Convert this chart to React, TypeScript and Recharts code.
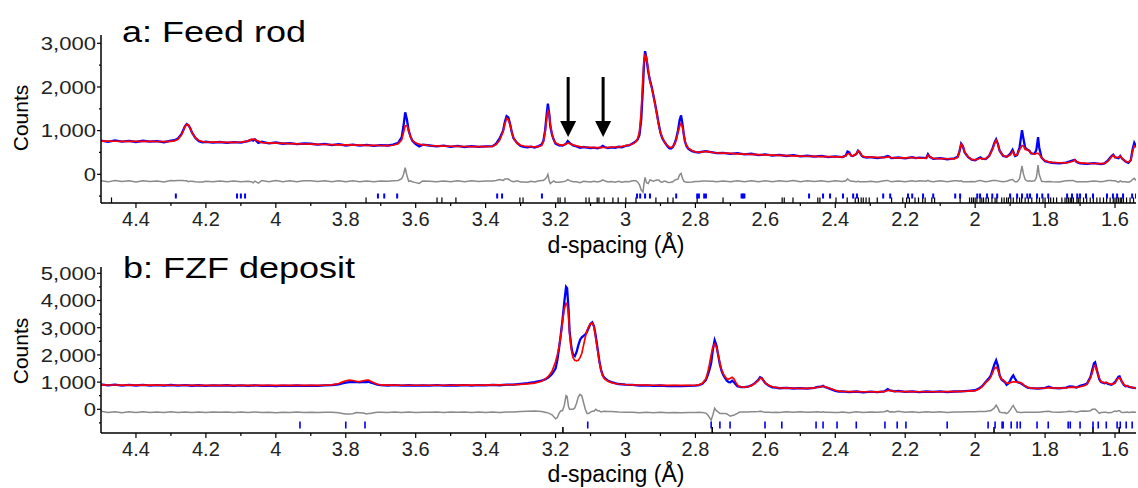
import React from 'react';
import { ComposedChart, Line, Scatter, XAxis, YAxis } from 'recharts';

const FONT = '"Liberation Sans", Arial, Helvetica, sans-serif';

// ---------- Panel a: Feed rod ----------
const dA = [
  4.50, 4.48, 4.46, 4.44, 4.42, 4.40, 4.38, 4.36, 4.34, 4.32,
  4.30, 4.29, 4.28, 4.27, 4.265, 4.26, 4.255, 4.25, 4.245, 4.24,
  4.23, 4.22, 4.21, 4.20, 4.18, 4.16, 4.14, 4.12, 4.10, 4.08,
  4.07, 4.065, 4.06, 4.05, 4.04, 4.02, 4.00, 3.98, 3.96, 3.94,
  3.92, 3.90, 3.88, 3.86, 3.84, 3.82, 3.80, 3.78, 3.76, 3.74,
  3.72, 3.70, 3.68, 3.665, 3.65, 3.64, 3.635, 3.63, 3.625, 3.62,
  3.615, 3.61, 3.60, 3.59, 3.58, 3.56, 3.54, 3.52, 3.50, 3.48,
  3.46, 3.44, 3.42, 3.40, 3.38, 3.37, 3.36, 3.35, 3.345, 3.34,
  3.335, 3.33, 3.325, 3.32, 3.31, 3.30, 3.29, 3.28, 3.27, 3.26,
  3.25, 3.24, 3.235, 3.23, 3.225, 3.222, 3.218, 3.215, 3.21, 3.205,
  3.20, 3.19, 3.18, 3.17, 3.165, 3.16, 3.15, 3.14, 3.13, 3.12,
  3.10, 3.09, 3.08, 3.07, 3.065, 3.06, 3.05, 3.04, 3.03, 3.02,
  3.01, 3.00, 2.99, 2.98, 2.975, 2.97, 2.965, 2.96, 2.955, 2.95,
  2.947, 2.944, 2.94, 2.935, 2.93, 2.925, 2.92, 2.915, 2.91, 2.905,
  2.90, 2.895, 2.89, 2.885, 2.88, 2.875, 2.87, 2.865, 2.86, 2.855,
  2.85, 2.845, 2.841, 2.837, 2.833, 2.83, 2.825, 2.82, 2.81, 2.80,
  2.79, 2.78, 2.77, 2.76, 2.75, 2.74, 2.72, 2.70, 2.68, 2.66,
  2.64, 2.62, 2.60, 2.58, 2.56, 2.54, 2.52, 2.50, 2.48, 2.46,
  2.44, 2.42, 2.40, 2.38, 2.37, 2.365, 2.36, 2.355, 2.35, 2.34,
  2.335, 2.33, 2.325, 2.32, 2.31, 2.30, 2.28, 2.26, 2.25, 2.245,
  2.24, 2.22, 2.20, 2.18, 2.17, 2.16, 2.14, 2.135, 2.13, 2.12,
  2.10, 2.08, 2.06, 2.05, 2.045, 2.04, 2.035, 2.03, 2.02, 2.01,
  2.00, 1.99, 1.985, 1.98, 1.97, 1.96, 1.95, 1.945, 1.94, 1.935,
  1.93, 1.92, 1.91, 1.90, 1.893, 1.886, 1.88, 1.873, 1.866, 1.862,
  1.857, 1.85, 1.845, 1.84, 1.83, 1.825, 1.82, 1.817, 1.81, 1.80,
  1.79, 1.78, 1.76, 1.74, 1.72, 1.715, 1.71, 1.70, 1.68, 1.66,
  1.64, 1.63, 1.62, 1.61, 1.605, 1.60, 1.59, 1.585, 1.58, 1.57,
  1.562, 1.555, 1.55, 1.545, 1.54,
];
const obsA = [
  770, 745, 775, 750, 765, 740, 768, 748, 760, 735,
  770, 780, 820, 920, 1010, 1100, 1150, 1120, 1060, 960,
  830, 760, 735, 745, 725, 740, 720, 738, 725, 760,
  790, 770, 800, 720, 745, 710, 728, 700, 715, 690,
  705, 700, 680, 695, 670, 690, 660, 680, 655, 672,
  650, 668, 660, 680, 720, 850, 1100, 1420, 1250, 1000,
  870, 770, 690, 640, 680, 660, 640, 655, 630, 650,
  625, 645, 630, 640, 645, 700, 820, 1000, 1200, 1330,
  1300, 1150, 960, 820, 720, 650, 630, 620, 635, 615,
  640, 680, 760, 1000, 1400, 1620, 1380, 1100, 900, 790,
  700, 660, 655, 700, 760, 720, 660, 640, 605, 625,
  600, 610, 595, 620, 650, 625, 600, 615, 605, 630,
  620, 650, 660, 705, 730, 760, 800, 900, 1250, 2000,
  2550, 2820, 2650, 2350, 2150, 2000, 1800, 1600, 1380, 1150,
  950, 830, 760, 700, 640, 600, 590, 620, 700, 820,
  1000, 1250, 1350, 1150, 900, 750, 640, 580, 530, 510,
  500, 520, 530, 515, 500, 485, 490, 470, 485, 455,
  470, 440, 455, 430, 445, 420, 438, 410, 425, 405,
  420, 395, 410, 395, 430, 520, 500, 430, 420, 460,
  540, 500, 430, 400, 385, 395, 370, 395, 420, 400,
  370, 385, 365, 395, 370, 380, 370, 460, 400, 355,
  370, 345, 365, 400, 520, 700, 640, 500, 390, 335,
  320, 370, 390, 360, 350, 420, 600, 720, 800, 700,
  540, 420, 400, 470, 560, 420, 440, 620, 1010, 820,
  610, 560, 540, 480, 470, 560, 850, 620, 380, 300,
  280, 265, 250, 270, 320, 330, 280, 250, 240, 255,
  235, 250, 320, 420, 450, 390, 370, 420, 360, 290,
  260, 320, 560, 720, 640,
];
const calcA = [
  760, 758, 757, 756, 755, 754, 753, 752, 751, 750,
  752, 765, 800, 900, 990, 1090, 1140, 1130, 1060, 960,
  840, 775, 750, 742, 738, 735, 733, 731, 735, 760,
  800, 805, 795, 760, 725, 718, 712, 708, 703, 698,
  694, 690, 686, 683, 679, 676, 672, 669, 666, 664,
  662, 660, 658, 665, 700, 790, 950, 1110, 1120, 1000,
  860, 780, 720, 690, 672, 660, 652, 647, 643, 640,
  637, 635, 633, 632, 640, 680, 780, 980, 1150, 1280,
  1250, 1130, 960, 830, 710, 665, 648, 640, 634, 630,
  632, 660, 740, 950, 1300, 1460, 1380, 1150, 920, 780,
  720, 680, 668, 690, 720, 705, 670, 650, 635, 625,
  617, 612, 610, 612, 615, 614, 615, 620, 625, 630,
  640, 655, 672, 695, 720, 750, 820, 980, 1450, 2250,
  2600, 2730, 2680, 2400, 2120, 1980, 1800, 1580, 1350, 1120,
  960, 850, 760, 700, 660, 625, 610, 630, 680, 780,
  950, 1100, 1170, 1080, 900, 760, 660, 600, 545, 515,
  505, 515, 525, 512, 500, 493, 485, 478, 470, 464,
  457, 450, 444, 438, 432, 427, 422, 418, 414, 410,
  406, 403, 400, 400, 420, 470, 480, 430, 420, 470,
  540, 510, 440, 410, 395, 392, 388, 384, 400, 395,
  382, 378, 375, 385, 375, 370, 368, 440, 400, 365,
  360, 356, 355, 390, 520, 690, 650, 510, 400, 340,
  330, 355, 370, 355, 360, 420, 580, 700, 780, 690,
  540, 430, 400, 440, 520, 430, 450, 560, 660, 650,
  570, 560, 530, 480, 460, 480, 480, 460, 380, 310,
  285, 275, 265, 260, 300, 330, 290, 260, 252, 248,
  246, 250, 300, 400, 440, 380, 390, 410, 370, 300,
  280, 320, 520, 650, 620,
];
const hklA1 = [
  4.286, 4.111, 4.1, 4.088, 3.708, 3.69, 3.653, 3.367, 3.353, 3.239,
  2.967, 2.958, 2.944, 2.93, 2.855, 2.795, 2.79, 2.775, 2.77, 2.668, 2.664, 2.66,
  2.475, 2.435, 2.415, 2.378, 2.349, 2.338, 2.263, 2.243, 2.192, 2.18,
  2.149, 2.12, 2.057, 2.043, 1.994, 1.986, 1.966, 1.951, 1.937, 1.9,
  1.88, 1.866, 1.851, 1.843, 1.823, 1.808, 1.791, 1.737, 1.723, 1.708,
  1.7, 1.683, 1.663, 1.623, 1.606, 1.594, 1.577, 1.551, 1.54,
];
const hklA2 = [
  4.47, 3.742, 3.539, 3.525, 3.485, 3.302, 3.293, 3.193, 3.187, 3.173,
  3.113, 3.104, 3.081, 3.076, 3.061, 3.036, 3.021, 2.999, 2.97, 2.913,
  2.879, 2.864, 2.795, 2.721, 2.552, 2.546, 2.521, 2.45, 2.444, 2.398,
  2.366, 2.343, 2.334, 2.326, 2.32, 2.312, 2.303, 2.28, 2.239, 2.207,
  2.196, 2.188, 2.172, 2.162, 2.15, 2.143, 2.124, 2.116, 2.043, 2.016,
  2.01, 2.005, 2.0, 1.995, 1.986, 1.981, 1.976, 1.969, 1.962, 1.952,
  1.943, 1.938, 1.924, 1.917, 1.91, 1.905, 1.898, 1.891, 1.881, 1.873,
  1.867, 1.857, 1.848, 1.838, 1.824, 1.816, 1.806, 1.8, 1.79, 1.784,
  1.776, 1.767, 1.752, 1.743, 1.738, 1.733, 1.728, 1.724, 1.719, 1.709,
  1.705, 1.7, 1.69, 1.681, 1.671, 1.662, 1.652, 1.643, 1.633, 1.624,
  1.614, 1.605, 1.6, 1.595, 1.59, 1.585, 1.581, 1.576, 1.567, 1.557, 1.547,
];
const arrowsA = [3.164, 3.064];

// ---------- Panel b: FZF deposit ----------
const dB = [
  4.50, 4.48, 4.46, 4.44, 4.42, 4.40, 4.38, 4.36, 4.34, 4.32,
  4.30, 4.28, 4.26, 4.24, 4.22, 4.20, 4.18, 4.16, 4.14, 4.12,
  4.10, 4.08, 4.06, 4.04, 4.02, 4.00, 3.98, 3.96, 3.94, 3.92,
  3.90, 3.88, 3.86, 3.84, 3.82, 3.81, 3.80, 3.79, 3.78, 3.77,
  3.76, 3.75, 3.74, 3.735, 3.73, 3.72, 3.71, 3.70, 3.68, 3.66,
  3.64, 3.62, 3.60, 3.58, 3.56, 3.54, 3.52, 3.50, 3.48, 3.46,
  3.44, 3.42, 3.40, 3.38, 3.36, 3.34, 3.32, 3.30, 3.28, 3.26,
  3.24, 3.23, 3.22, 3.21, 3.20, 3.195, 3.19, 3.185, 3.18, 3.175,
  3.17, 3.167, 3.163, 3.16, 3.155, 3.15, 3.145, 3.14, 3.135, 3.13,
  3.125, 3.12, 3.115, 3.11, 3.105, 3.10, 3.095, 3.09, 3.085, 3.08,
  3.075, 3.07, 3.065, 3.06, 3.05, 3.04, 3.03, 3.02, 3.00, 2.98,
  2.96, 2.94, 2.92, 2.90, 2.88, 2.86, 2.84, 2.82, 2.80, 2.79,
  2.78, 2.77, 2.765, 2.76, 2.755, 2.75, 2.745, 2.74, 2.735, 2.73,
  2.725, 2.72, 2.715, 2.71, 2.705, 2.70, 2.695, 2.69, 2.685, 2.68,
  2.675, 2.67, 2.66, 2.65, 2.64, 2.63, 2.62, 2.615, 2.61, 2.605,
  2.60, 2.59, 2.58, 2.57, 2.56, 2.54, 2.52, 2.50, 2.48, 2.46,
  2.45, 2.44, 2.435, 2.43, 2.42, 2.40, 2.39, 2.38, 2.36, 2.34,
  2.32, 2.30, 2.28, 2.26, 2.25, 2.245, 2.24, 2.23, 2.22, 2.20,
  2.18, 2.16, 2.14, 2.12, 2.10, 2.08, 2.06, 2.04, 2.02, 2.00,
  1.99, 1.98, 1.97, 1.96, 1.955, 1.95, 1.945, 1.94, 1.935, 1.93,
  1.925, 1.92, 1.915, 1.91, 1.905, 1.90, 1.895, 1.891, 1.887, 1.88,
  1.875, 1.87, 1.865, 1.86, 1.85, 1.84, 1.82, 1.80, 1.79, 1.78,
  1.76, 1.74, 1.73, 1.72, 1.71, 1.70, 1.69, 1.68, 1.67, 1.665,
  1.66, 1.657, 1.652, 1.645, 1.64, 1.63, 1.625, 1.62, 1.61, 1.60,
  1.595, 1.59, 1.587, 1.582, 1.575, 1.57, 1.565, 1.56, 1.55, 1.54,
];
const obsB = [
  920, 880, 905, 870, 900, 875, 895, 868, 890, 872,
  893, 870, 888, 866, 885, 862, 880, 870, 885, 860,
  878, 862, 880, 858, 870, 855, 872, 860, 875, 858,
  870, 862, 880, 890, 920, 950, 980, 1000, 1000, 1010,
  990, 1010, 1000, 1020, 990, 950, 910, 890, 875, 890,
  870, 885, 868, 880, 872, 888, 868, 885, 875, 892,
  870, 890, 878, 900, 885, 905, 910, 935, 960, 1000,
  1050, 1100, 1180, 1300, 1500, 1800, 2250, 2750, 3300, 3950,
  4500, 4450, 3700, 2900, 2300, 2000, 1950, 2100, 2350, 2550,
  2650, 2700, 2750, 2850, 3000, 3150, 3200, 3050, 2700, 2250,
  1800, 1450, 1250, 1150, 1050, 1000, 960, 930, 905, 895,
  870, 880, 860, 875, 855, 865, 850, 860, 870, 890,
  940, 1080, 1250, 1450, 1700, 2200, 2540, 2350, 2000, 1650,
  1400, 1250, 1150, 1050, 1000, 990, 1050, 1000, 920, 850,
  830, 820, 815, 830, 880, 960, 1080, 1180, 1150, 1050,
  960, 870, 810, 800, 775, 790, 765, 780, 760, 790,
  820, 830, 860, 820, 780, 680, 650, 660, 630, 655,
  625, 650, 635, 660, 740, 700, 690, 660, 680, 640,
  660, 630, 655, 640, 660, 635, 655, 660, 680, 700,
  760, 850, 1000, 1150, 1250, 1450, 1650, 1800, 1600, 1250,
  1100, 1050, 1000, 900, 950, 1050, 1180, 1250, 1150, 1000,
  980, 960, 920, 870, 800, 775, 760, 790, 830, 790,
  770, 800, 840, 830, 800, 860, 900, 950, 1200, 1450,
  1700, 1730, 1450, 1100, 1000, 960, 980, 930, 900, 1000,
  1100, 1200, 1210, 1050, 900, 850, 860, 820, 800, 780,
];
const calcB = [
  895, 894, 893, 892, 891, 890, 889, 888, 887, 886,
  885, 884, 884, 883, 882, 882, 881, 881, 880, 880,
  880, 879, 879, 879, 878, 878, 878, 878, 878, 879,
  880, 882, 886, 900, 950, 1000, 1050, 1075, 1060, 1030,
  1020, 1050, 1075, 1070, 1040, 980, 920, 895, 888, 886,
  885, 884, 884, 884, 884, 884, 885, 885, 886, 887,
  888, 890, 892, 895, 898, 902, 908, 918, 935, 965,
  1030, 1110, 1220, 1400, 1750, 2000, 2300, 2700, 3250, 3700,
  3900, 3880, 3500, 2800, 2200, 1900, 1800, 1780, 1800, 1900,
  2050, 2350, 2650, 2900, 3050, 3150, 3170, 3020, 2600, 2200,
  1750, 1450, 1230, 1120, 1030, 980, 950, 930, 912, 900,
  893, 888, 885, 882, 880, 879, 879, 880, 885, 900,
  960, 1120, 1350, 1650, 2000, 2300, 2400, 2300, 2000, 1700,
  1450, 1300, 1200, 1120, 1110, 1140, 1180, 1120, 1000, 900,
  840, 820, 815, 830, 870, 950, 1060, 1150, 1130, 1050,
  970, 880, 830, 805, 790, 780, 775, 770, 770, 785,
  810, 840, 850, 830, 790, 700, 670, 660, 652, 648,
  646, 645, 644, 648, 690, 700, 680, 660, 655, 650,
  648, 646, 645, 645, 646, 648, 652, 658, 668, 690,
  740, 830, 980, 1100, 1200, 1350, 1500, 1550, 1450, 1250,
  1120, 1080, 1020, 960, 960, 980, 1000, 1010, 1010, 1000,
  990, 980, 940, 880, 810, 780, 770, 775, 800, 790,
  780, 790, 810, 815, 810, 830, 860, 920, 1150, 1350,
  1600, 1620, 1400, 1150, 1020, 970, 990, 960, 920, 960,
  1080, 1150, 1160, 1060, 920, 860, 860, 840, 800, 790,
];
const hklB1 = [
  3.931, 3.8, 3.745, 3.108, 2.755, 2.73, 2.701, 2.601, 2.553, 2.455,
  2.435, 2.395, 2.34, 2.258, 2.223, 2.198, 2.08, 1.963, 1.943, 1.923,
  1.92, 1.897, 1.88, 1.871, 1.823, 1.791, 1.734, 1.728, 1.7, 1.663,
  1.648, 1.625, 1.594, 1.585, 1.568, 1.551,
];
const hklB2 = [3.179, 2.752, 1.946, 1.663, 1.588];

// ---------- axes ----------
const X_DOMAIN: [number, number] = [1.54, 4.5];
const X_TICKS = [
  4.4, 4.3, 4.2, 4.1, 4.0, 3.9, 3.8, 3.7, 3.6, 3.5, 3.4, 3.3, 3.2, 3.1, 3.0,
  2.9, 2.8, 2.7, 2.6, 2.5, 2.4, 2.3, 2.2, 2.1, 2.0, 1.9, 1.8, 1.7, 1.6,
];
const Y_TICKS_A = [-500, 0, 500, 1000, 1500, 2000, 2500, 3000];
const Y_TICKS_B = [-500, 0, 500, 1000, 1500, 2000, 2500, 3000, 3500, 4000, 4500, 5000];

// placement constants (counts units) for offset curves and reflection markers
const DIFF_OFFSET_A = -160;
const DIFF_OFFSET_B = -100;
const BLUE_TICK_Y_A = -497;
const BLACK_TICK_Y_A = -530;
const BLUE_TICK_Y_B = -577;
const BLACK_TICK_Y_B = -650;
const ARROW_TIP_A = 854;

const buildRows = (d: number[], obs: number[], calc: number[], offset: number) =>
  d.map((x, i) => ({ d: x, obs: obs[i], calc: calc[i], diff: obs[i] - calc[i] + offset }));
const tickRows = (list: number[], y: number) => list.map((d) => ({ d, y }));

const rowsA = buildRows(dA, obsA, calcA, DIFF_OFFSET_A);
const rowsB = buildRows(dB, obsB, calcB, DIFF_OFFSET_B);

const fmtX = (v: number) => String(Number(v.toFixed(1)));

const XTick = (props: any) => {
  const { x, y, payload } = props;
  const v = payload.value as number;
  const major = Math.round(v * 10) % 2 === 0;
  return (
    <g>
      <line x1={x} y1={y} x2={x} y2={y + (major ? 5 : 3)} stroke="#000" strokeWidth={1.2} />
      {major && (
        <text x={x} y={y + 23} textAnchor="middle" fontSize={20} fontFamily={FONT} fill="#222">
          {fmtX(v)}
        </text>
      )}
    </g>
  );
};

const YTick = (props: any) => {
  const { x, y, payload } = props;
  const v = payload.value as number;
  const major = v % 1000 === 0 && v >= 0;
  return (
    <g>
      <line x1={x} y1={y} x2={x - (major ? 4 : 2)} y2={y} stroke="#000" strokeWidth={1.2} />
      {major && (
        <text
          transform={`translate(${x - 5},${y}) scale(1.16,1)`}
          dy="0.36em"
          textAnchor="end"
          fontSize={19}
          fontFamily={FONT}
          fill="#222"
        >
          {v.toLocaleString('en-US')}
        </text>
      )}
    </g>
  );
};

const blueTickA = (p: any) => <rect x={p.cx - 1} y={p.cy - 2.5} width={2} height={5} fill="#0000ff" />;
const blackTickA = (p: any) => <rect x={p.cx - 0.6} y={p.cy} width={1.2} height={6} fill="#000" />;
const blueTickB = (p: any) => <rect x={p.cx - 0.8} y={p.cy - 3.5} width={1.6} height={7} fill="#0000ff" />;
const blackTickB = (p: any) => <rect x={p.cx - 0.8} y={p.cy} width={1.6} height={8} fill="#000" />;
const arrowShape = (p: any) => (
  <g>
    <rect x={p.cx - 1.5} y={p.cy - 60} width={3} height={46} fill="#000" />
    <polygon points={`${p.cx - 8},${p.cy - 16} ${p.cx + 8},${p.cy - 16} ${p.cx},${p.cy}`} fill="#000" />
  </g>
);

type PanelProps = {
  top: number;
  height: number;
  marginTop: number;
  rows: any[];
  yDomain: [number, number];
  yTicks: number[];
  blueTicks: any[];
  blackTicks: any[];
  blueShape: any;
  blackShape: any;
  arrows?: any[];
  title: string;
  titleX: number;
  titleY: number;
  countsY: number;
  xLabelY: number;
};

const Panel = (p: PanelProps) => (
  <div style={{ position: 'absolute', left: 0, top: p.top }}>
    <ComposedChart
      width={1138}
      height={p.height}
      data={p.rows}
      margin={{ top: p.marginTop, right: 2, bottom: 0, left: 0 }}
    >
      <XAxis
        dataKey="d"
        type="number"
        domain={X_DOMAIN}
        reversed
        allowDataOverflow
        ticks={X_TICKS}
        interval={0}
        tickSize={0}
        tickMargin={0}
        tickLine={false}
        tick={(t: any) => <XTick {...t} />}
        height={55}
        axisLine={{ stroke: '#000', strokeWidth: 1.5 }}
      />
      <YAxis
        type="number"
        domain={p.yDomain}
        allowDataOverflow
        ticks={p.yTicks}
        interval={0}
        tickSize={0}
        tickMargin={0}
        tickLine={false}
        tick={(t: any) => <YTick {...t} />}
        width={101}
        axisLine={{ stroke: '#000', strokeWidth: 1.5 }}
      />
      <Scatter data={p.blackTicks} dataKey="y" shape={p.blackShape} isAnimationActive={false} />
      <Scatter data={p.blueTicks} dataKey="y" shape={p.blueShape} isAnimationActive={false} />
      <Line type="linear" dataKey="diff" stroke="#8a8a8a" strokeWidth={1.5} dot={false} isAnimationActive={false} />
      <Line type="linear" dataKey="obs" stroke="#0000ff" strokeWidth={2.3} dot={false} isAnimationActive={false} />
      <Line type="linear" dataKey="calc" stroke="#ff0000" strokeWidth={1.7} dot={false} isAnimationActive={false} />
      {p.arrows && <Scatter data={p.arrows} dataKey="y" shape={arrowShape} isAnimationActive={false} />}
      <text
        transform={`translate(${p.titleX},${p.titleY}) scale(1.2,1)`}
        fontSize={30}
        fontFamily={FONT}
        fill="#000"
      >
        {p.title}
      </text>
      <text
        transform={`translate(28,${p.countsY}) rotate(-90)`}
        textAnchor="middle"
        fontSize={21}
        fontFamily={FONT}
        fill="#000"
      >
        Counts
      </text>
      <text x={616} y={p.xLabelY} textAnchor="middle" fontSize={23} fontFamily={FONT} fill="#000">
        d-spacing (Å)
      </text>
    </ComposedChart>
  </div>
);

export default function App() {
  return (
    <div style={{ position: 'absolute', left: 0, top: 0, width: 1138, height: 488, background: '#fff' }}>
      <Panel
        top={0}
        height={258}
        marginTop={35}
        rows={rowsA}
        yDomain={[-657, 3190]}
        yTicks={Y_TICKS_A}
        blueTicks={tickRows(hklA1, BLUE_TICK_Y_A)}
        blackTicks={tickRows(hklA2, BLACK_TICK_Y_A)}
        blueShape={blueTickA}
        blackShape={blackTickA}
        arrows={tickRows(arrowsA, ARROW_TIP_A)}
        title="a: Feed rod"
        titleX={122}
        titleY={42}
        countsY={118}
        xLabelY={253}
      />
      <Panel
        top={232}
        height={256}
        marginTop={35}
        rows={rowsB}
        yDomain={[-871, 5232]}
        yTicks={Y_TICKS_B}
        blueTicks={tickRows(hklB1, BLUE_TICK_Y_B)}
        blackTicks={tickRows(hklB2, BLACK_TICK_Y_B)}
        blueShape={blueTickB}
        blackShape={blackTickB}
        title="b: FZF deposit"
        titleX={123}
        titleY={46}
        countsY={119}
        xLabelY={250}
      />
    </div>
  );
}
